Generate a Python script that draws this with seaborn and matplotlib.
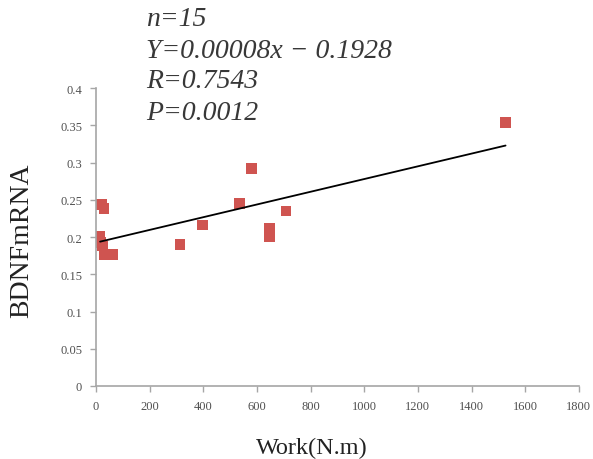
import numpy as np
import pandas as pd
import matplotlib
matplotlib.use('Agg')
import matplotlib.pyplot as plt
import seaborn as sns

# 数据
work = [1527, 581, 536, 708, 648, 648, 398, 313, 19, 30, 15, 16, 25, 30, 60]
bdnf = [0.354, 0.292, 0.245, 0.235, 0.211, 0.200, 0.216, 0.190,
        0.244, 0.238, 0.201, 0.193, 0.188, 0.177, 0.177]
xticks = [0, 200, 400, 600, 800, 1000, 1200, 1400, 1600, 1800]
yticks = [0, 0.05, 0.1, 0.15, 0.2, 0.25, 0.3, 0.35, 0.4]
stats_text = ["n=15", "Y=0.00008x \u2212 0.1928", "R=0.7543", "P=0.0012"]

df = pd.DataFrame({'work': work, 'bdnf': bdnf})

sns.set_style("white")
plt.rcParams['font.family'] = ['Liberation Serif', 'DejaVu Serif']

fig = plt.figure(figsize=(5.93, 4.60), dpi=100)
ax = fig.add_axes([0.162, 0.1587, 0.814, 0.6478])

sns.regplot(x='work', y='bdnf', data=df, ci=None, ax=ax,
            marker='s',
            scatter_kws={'color': '#cf5450', 's': 60, 'edgecolor': 'none', 'alpha': 1},
            line_kws={'color': 'black', 'linewidth': 1.3})

ax.set_xlim(0, 1800)
ax.set_ylim(0, 0.4)
ax.set_xticks(xticks)
ax.set_xticklabels([str(t) for t in xticks])
ax.set_yticks(yticks)
ax.set_yticklabels(['0', '0.05', '0.1', '0.15', '0.2', '0.25', '0.3', '0.35', '0.4'])

for s in ['top', 'right']:
    ax.spines[s].set_visible(False)
for s in ['left', 'bottom']:
    ax.spines[s].set_color('#a6a6a6')
    ax.spines[s].set_linewidth(1.2)
ax.tick_params(axis='both', direction='out', length=4, width=1, color='#a6a6a6',
               labelsize=9, labelcolor='#505050', left=True, bottom=True)
ax.tick_params(axis='y', pad=6)
ax.tick_params(axis='x', pad=6)

ax.set_xlabel('Work(N.m)', fontsize=17.5, color='#222222')
ax.set_ylabel('BDNFmRNA', fontsize=20, color='#222222')
ax.xaxis.set_label_coords(0.447, -0.205)
ax.yaxis.set_label_coords(-0.155, 0.49)
ax.xaxis.label.set_va('center')
ax.yaxis.label.set_va('center')

for i, line in enumerate(stats_text):
    fig.text(146 / 593, 1 - (20 + i * 31) / 460, line, fontsize=20, style='italic',
             color='#383838', va='center', ha='left')

plt.savefig('out.png', dpi=100)
